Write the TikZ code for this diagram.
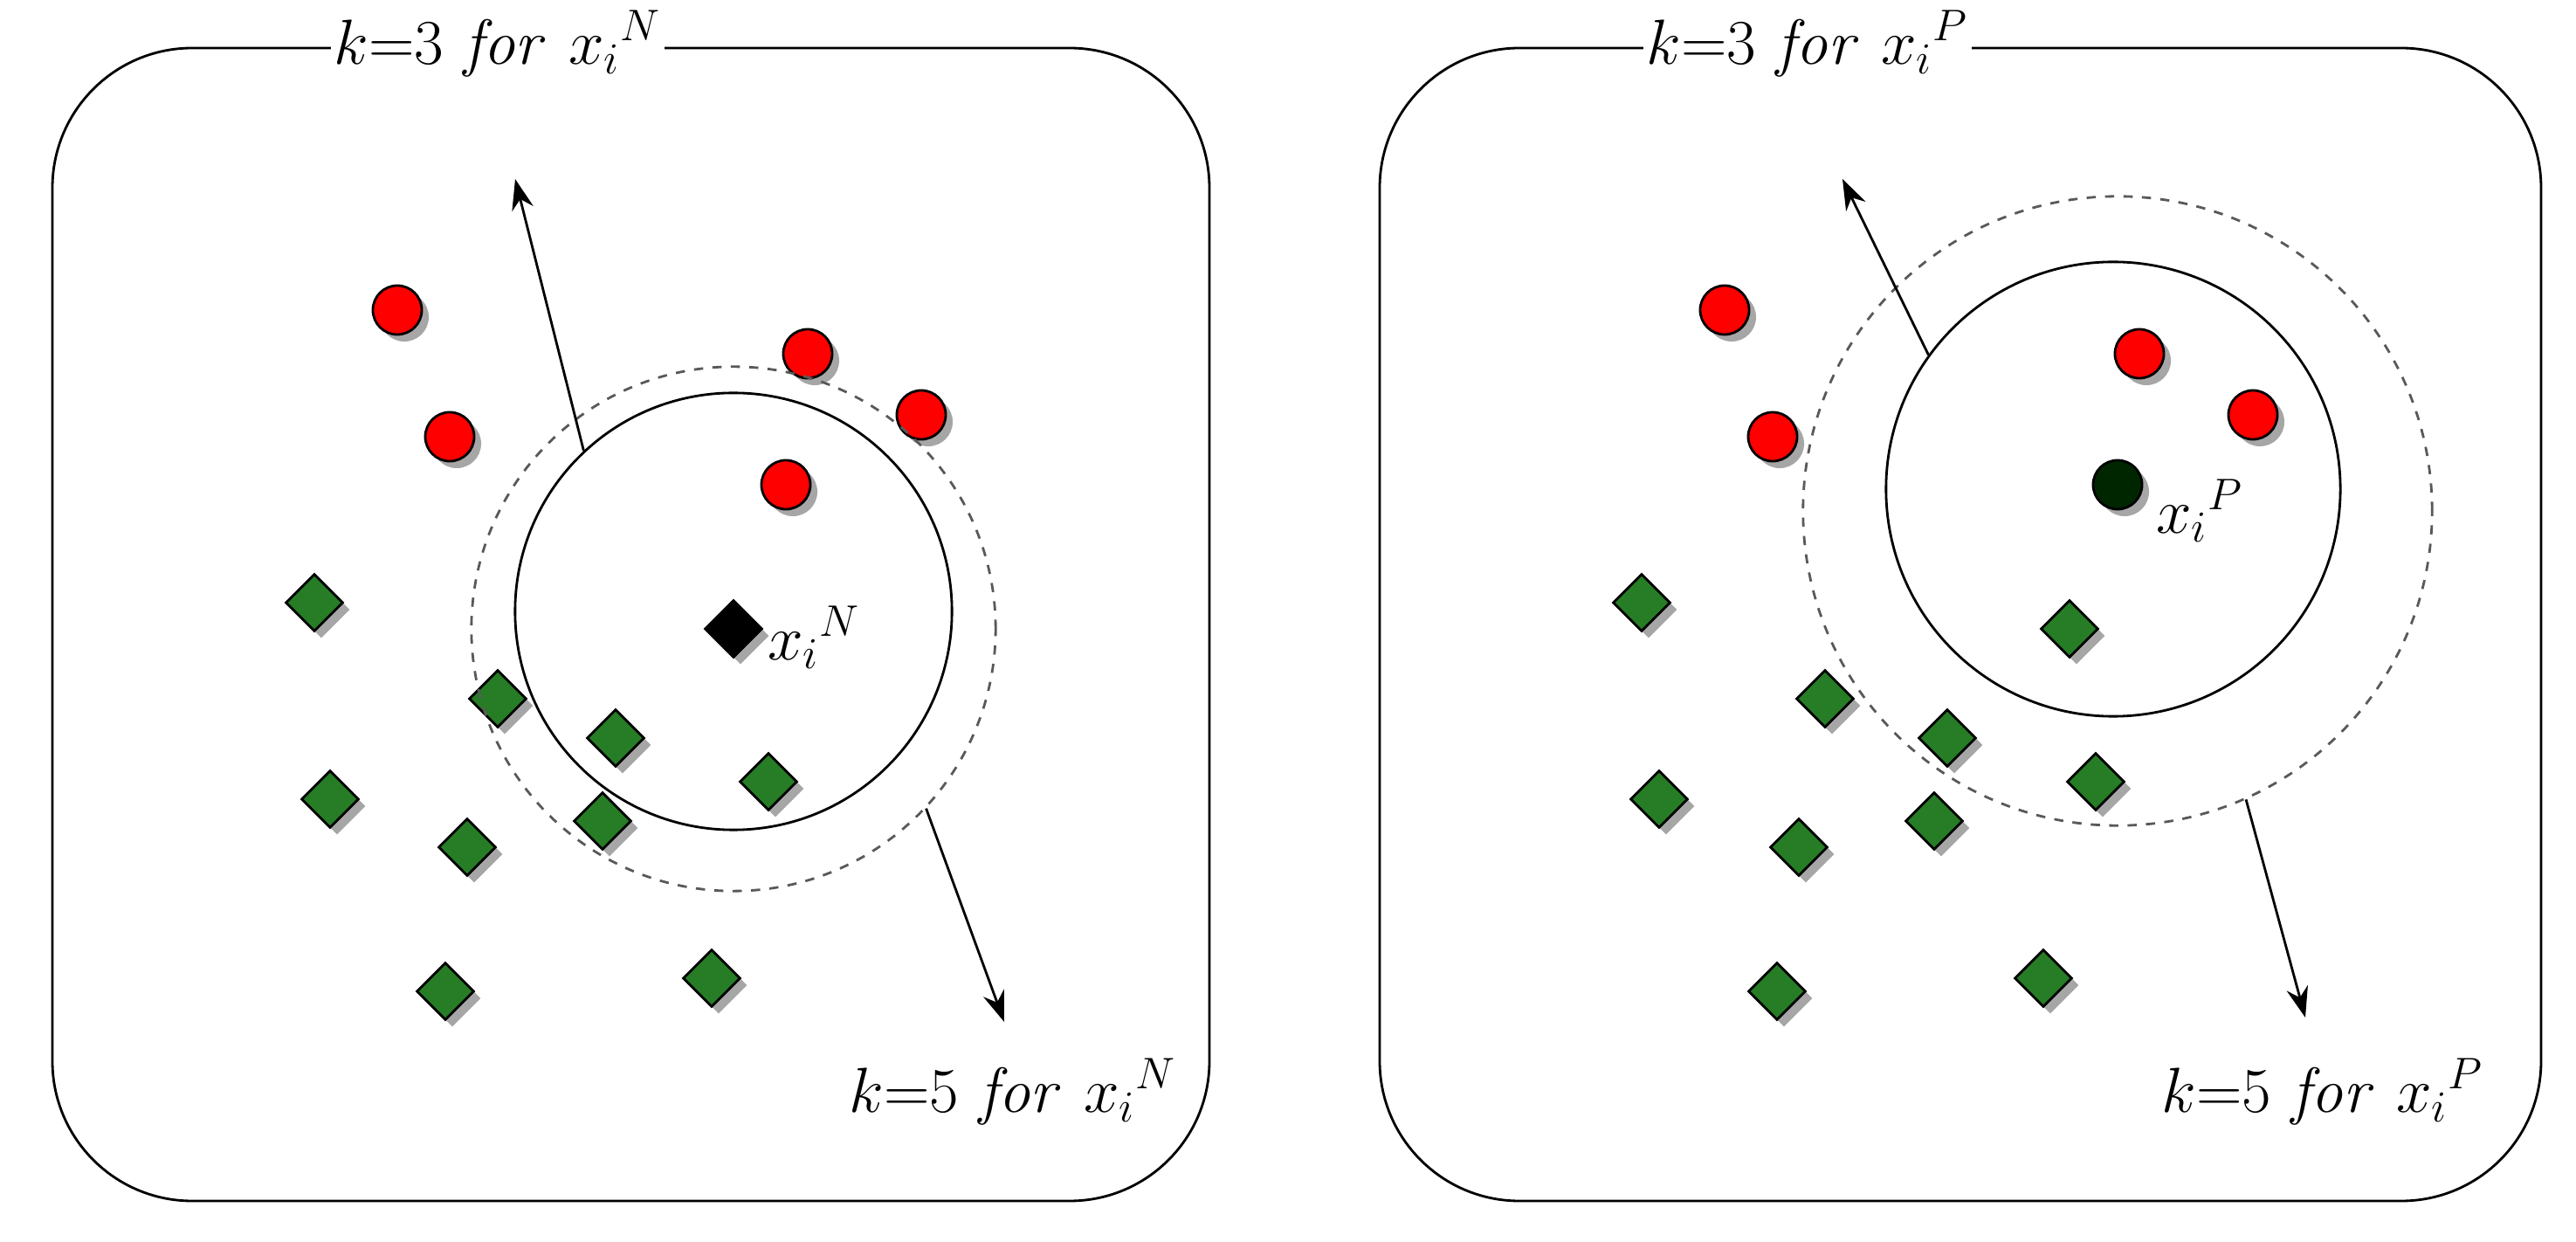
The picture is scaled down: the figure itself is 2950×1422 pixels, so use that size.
\documentclass[tikz,border=0pt]{standalone}
\usepackage{amsmath}
\usetikzlibrary{shapes,arrows.meta,shadows}
\tikzset{
    panel/.style={draw, thick, rounded corners=1.6cm},
    red pt/.style={circle, draw, thick, fill=red, minimum size=0.56cm, inner sep=0pt,
        drop shadow={shadow xshift=0.08cm, shadow yshift=-0.08cm, fill=black!35, opacity=1}},
    grn pt/.style={diamond, draw, thick, fill=green!40!black!85, minimum size=0.66cm, inner sep=0pt,
        drop shadow={shadow xshift=0.08cm, shadow yshift=-0.08cm, fill=black!35, opacity=1}},
    lbl/.style={font=\fontsize{22}{26}\selectfont, fill=white, inner sep=1pt},
    ptr/.style={-{Stealth[length=0.35cm,width=0.25cm]}, thick}
}
\begin{document}
\begin{tikzpicture}[x=0.01cm, y=-0.01cm]
    \useasboundingbox (0,0) rectangle (2950,1422);
    % left panel
    \draw[panel] (60,55) rectangle (1385,1375);
    \foreach \p/\x/\y in {a/455/355, b/515/500, c/925/405, d/1055/475, e/900/555}
        \node[red pt] (L\p) at (\x,\y) {};
    \foreach \p/\x/\y in {a/360/690, b/570/800, c/705/845, d/880/895, e/378/915,
                          f/535/970, g/690/940, h/510/1135, i/815/1120}
        \node[grn pt] (L\p) at (\x,\y) {};
    \node[grn pt, fill=black] (Lq) at (840,720) {};
    \node[circle, draw, thick, minimum size=5cm] (Lin) at (840,700) {};
    \node[circle, draw, thick, dashed, gray!70!black, minimum size=6cm] (Lout) at (840,720) {};
    \node[lbl, right, fill=none] (Lx) at (875,730) {$x_i{}^N$};
    \node[lbl] (Lk3) at (570,50) {$k{=}3\ \mathit{for}\ x_i{}^N$};
    \node[lbl] (Lk5) at (1160,1250) {$k{=}5\ \mathit{for}\ x_i{}^N$};
    \coordinate (L3a) at (590,205);
    \coordinate (L5a) at (1150,1170);
    \draw[ptr] (Lin.133) -- (L3a);
    \draw[ptr] (Lout.-43) -- (L5a);
    % right panel
    \draw[panel] (1580,55) rectangle (2910,1375);
    \foreach \p/\x/\y in {a/1975/355, b/2030/500, c/2450/405, d/2580/475}
        \node[red pt] (R\p) at (\x,\y) {};
    \node[red pt, fill=green!15!black] (Rq) at (2425,555) {};
    \foreach \p/\x/\y in {a/1880/690, b/2090/800, c/2230/845, d/2370/720, e/2400/895,
                          f/1900/915, g/2060/970, h/2215/940, i/2035/1135, j/2340/1120}
        \node[grn pt] (R\p) at (\x,\y) {};
    \node[circle, draw, thick, minimum size=5.2cm] (Rin) at (2420,560) {};
    \node[circle, draw, thick, dashed, gray!70!black, minimum size=7.2cm] (Rout) at (2425,585) {};
    \node[lbl, right, fill=none] (Rx) at (2465,585) {$x_i{}^P$};
    \node[lbl] (Rk3) at (2070,50) {$k{=}3\ \mathit{for}\ x_i{}^P$};
    \node[lbl] (Rk5) at (2660,1250) {$k{=}5\ \mathit{for}\ x_i{}^P$};
    \coordinate (R3a) at (2110,205);
    \coordinate (R5a) at (2640,1165);
    \draw[ptr] (Rin.144) -- (R3a);
    \draw[ptr] (Rout.-66) -- (R5a);
\end{tikzpicture}
\end{document}
